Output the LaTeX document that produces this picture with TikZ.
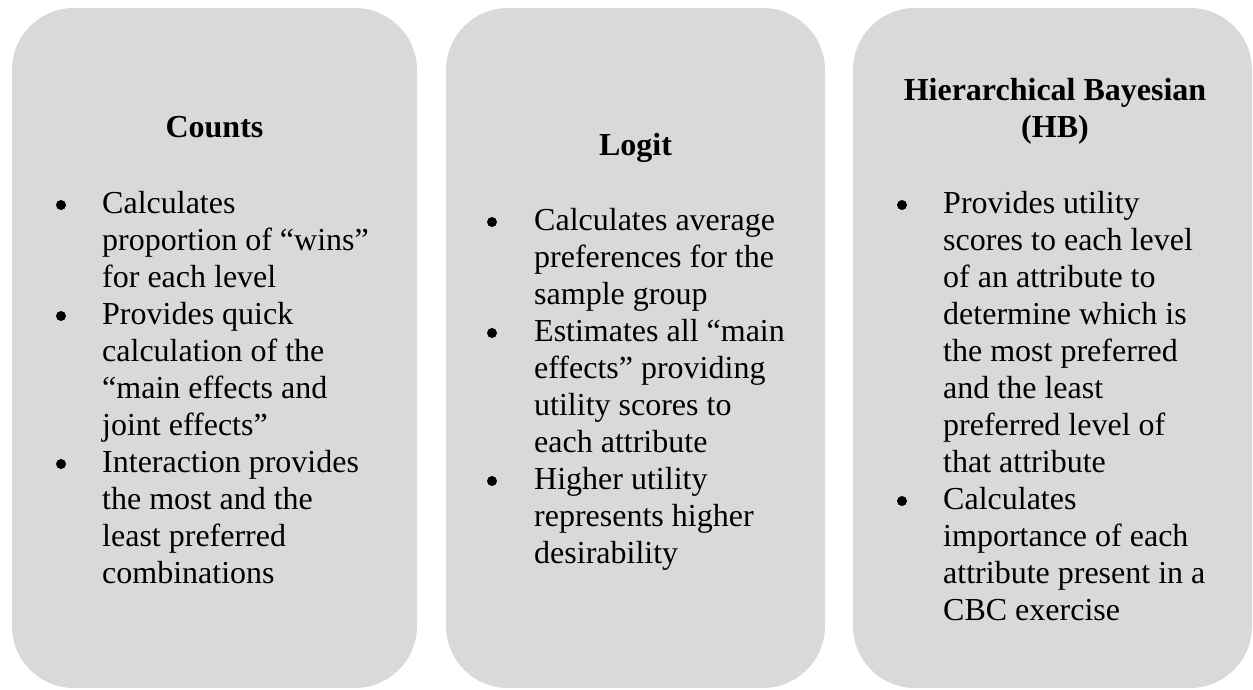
\documentclass[tikz,border=0pt]{standalone}
\usepackage{fontspec}
\setmainfont{Liberation Serif}
\usepackage{tikz}
\usetikzlibrary{positioning}
\definecolor{panelgray}{HTML}{D9D9D9}
\newcommand{\txtsize}{\fontsize{32}{37}\selectfont}
% lines hang from the first baseline
\newcommand{\leftlines}[1]{\begin{tabular}[t]{@{}l@{}}#1\end{tabular}}
\newcommand{\midlines}[1]{\begin{tabular}[t]{@{}c@{}}#1\end{tabular}}

\begin{document}
\begin{tikzpicture}[
    x=1pt, y=-1pt,
    panel/.style={rectangle, fill=panelgray, rounded corners=62pt, inner sep=0pt, minimum height=680pt},
    head/.style={font=\txtsize\bfseries, anchor=base, inner sep=0pt},
    bul/.style={circle, fill=black, inner sep=0pt, minimum size=10pt},
    item/.style={font=\txtsize, anchor=base west, inner sep=0pt}
]
    \useasboundingbox (0,0) rectangle (1253,689);

    % Counts
    \node[panel, minimum width=405pt] (counts) at (214.5,348) {};
    \node[head] (countshead) at (214.5,137) {Counts};
    \node[bul] (cb1) at (61,205) {};
    \node[item] (ct1) at (102,213) {\leftlines{Calculates\\proportion of “wins”\\for each level}};
    \node[bul] (cb2) at (61,316) {};
    \node[item] (ct2) at (102,324) {\leftlines{Provides quick\\calculation of the\\“main effects and\\joint effects”}};
    \node[bul] (cb3) at (61,464) {};
    \node[item] (ct3) at (102,472) {\leftlines{Interaction provides\\the most and the\\least preferred\\combinations}};

    % Logit
    \node[panel, minimum width=379pt] (logit) at (635.5,348) {};
    \node[head] (logithead) at (635.5,155) {Logit};
    \node[bul] (lb1) at (492,222) {};
    \node[item] (lt1) at (534,230) {\leftlines{Calculates average\\preferences for the\\sample group}};
    \node[bul] (lb2) at (492,333) {};
    \node[item] (lt2) at (534,341) {\leftlines{Estimates all “main\\effects” providing\\utility scores to\\each attribute}};
    \node[bul] (lb3) at (492,481) {};
    \node[item] (lt3) at (534,489) {\leftlines{Higher utility\\represents higher\\desirability}};

    % Hierarchical Bayesian
    \node[panel, minimum width=399pt] (hb) at (1052.5,348) {};
    \node[head] (hbhead) at (1055,100) {\midlines{Hierarchical Bayesian\\(HB)}};
    \node[bul] (hb1) at (902,205) {};
    \node[item] (ht1) at (943,213) {\leftlines{Provides utility\\scores to each level\\of an attribute to\\determine which is\\the most preferred\\and the least\\preferred level of\\that attribute}};
    \node[bul] (hb2) at (902,501) {};
    \node[item] (ht2) at (943,509) {\leftlines{Calculates\\importance of each\\attribute present in a\\CBC exercise}};
\end{tikzpicture}
\end{document}
